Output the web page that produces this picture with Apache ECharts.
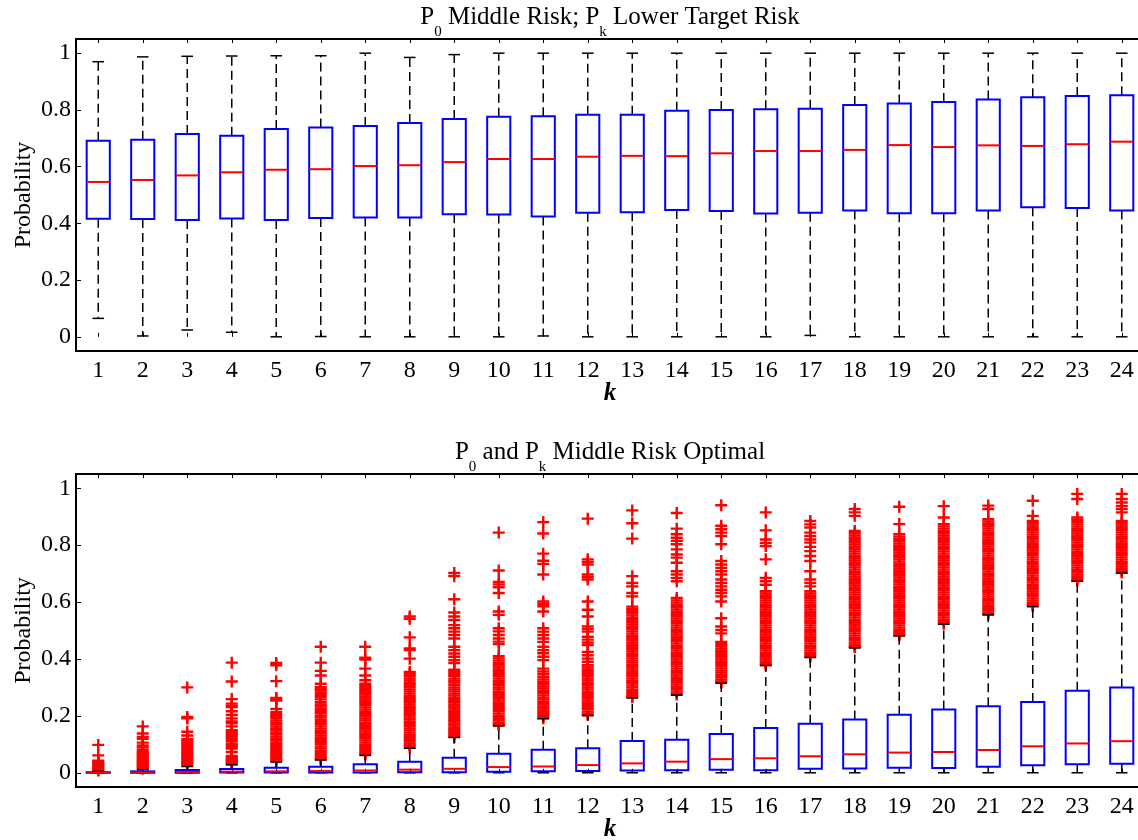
<!DOCTYPE html>
<html>
<head>
<meta charset="utf-8">
<title>Risk probability by k</title>
<script src="https://cdn.jsdelivr.net/npm/echarts@6/dist/echarts.min.js"></script>
<style>
  html, body { margin: 0; padding: 0; background: #fff; }
  #chart { width: 1138px; height: 840px; }
</style>
</head>
<body>
<div id="chart"></div>
<script>
// ---- categories and tick labels ----
const kLabels = ['1','2','3','4','5','6','7','8','9','10','11','12','13','14','15','16','17','18','19','20','21','22','23','24'];
const yTickValues = [0, 0.2, 0.4, 0.6, 0.8, 1];

// ---- upper panel: P0 middle risk, Pk lower target risk ----
const topLow  = [0.065, 0.003, 0.024, 0.016, 0.000, 0.001, 0.000, 0.000, 0.000, 0.000, 0.003, 0.000, 0.000, 0.000, 0.000, 0.000, 0.005, 0.000, 0.000, 0.000, 0.000, 0.000, 0.000, 0.000];
const topQ1   = [0.416, 0.415, 0.412, 0.417, 0.412, 0.419, 0.421, 0.421, 0.432, 0.431, 0.424, 0.437, 0.439, 0.447, 0.444, 0.435, 0.437, 0.445, 0.436, 0.436, 0.445, 0.457, 0.454, 0.445];
const topMed  = [0.546, 0.553, 0.569, 0.580, 0.589, 0.591, 0.602, 0.605, 0.616, 0.627, 0.627, 0.635, 0.638, 0.637, 0.647, 0.655, 0.655, 0.659, 0.676, 0.669, 0.675, 0.673, 0.679, 0.688];
const topQ3   = [0.691, 0.695, 0.715, 0.709, 0.733, 0.738, 0.743, 0.754, 0.768, 0.776, 0.778, 0.783, 0.783, 0.797, 0.800, 0.802, 0.804, 0.817, 0.823, 0.828, 0.837, 0.845, 0.849, 0.852];
const topHigh = [0.970, 0.987, 0.989, 0.990, 0.991, 0.991, 1.000, 0.985, 0.995, 1.000, 1.000, 1.000, 1.000, 1.000, 1.000, 1.000, 1.000, 1.000, 1.000, 1.000, 1.000, 1.000, 1.000, 1.000];

// ---- lower panel: P0 and Pk middle risk optimal ----
const botLow  = [0, 0, 0, 0, 0, 0, 0, 0, 0, 0, 0, 0, 0, 0, 0, 0, 0, 0, 0, 0, 0, 0, 0, 0];
const botQ1   = [0.000, 0.000, 0.000, 0.001, 0.001, 0.001, 0.001, 0.002, 0.002, 0.004, 0.005, 0.006, 0.008, 0.009, 0.011, 0.009, 0.014, 0.015, 0.018, 0.017, 0.021, 0.026, 0.030, 0.032];
const botMed  = [0.0005, 0.001, 0.003, 0.004, 0.005, 0.006, 0.008, 0.011, 0.014, 0.020, 0.022, 0.027, 0.033, 0.039, 0.048, 0.051, 0.058, 0.065, 0.071, 0.073, 0.080, 0.093, 0.103, 0.111];
const botQ3   = [0.002, 0.005, 0.010, 0.013, 0.018, 0.021, 0.030, 0.039, 0.053, 0.067, 0.081, 0.086, 0.112, 0.116, 0.136, 0.157, 0.172, 0.187, 0.204, 0.222, 0.234, 0.249, 0.288, 0.300];
const botHigh = [0.005, 0.011, 0.022, 0.028, 0.038, 0.045, 0.061, 0.086, 0.124, 0.165, 0.190, 0.201, 0.263, 0.273, 0.315, 0.377, 0.405, 0.439, 0.481, 0.522, 0.555, 0.584, 0.673, 0.702];

// outliers of the lower panel, one list per k
const botOutliers = [
  /* 1 */ [0.098, 0.061, 0.042, 0.038, 0.034, 0.031, 0.027, 0.023, 0.019, 0.015, 0.011, 0.008],
  /* 2 */ [0.163, 0.138, 0.126, 0.119, 0.106, 0.096, 0.089, 0.079, 0.074, 0.069, 0.064, 0.060, 0.055, 0.050, 0.046, 0.042, 0.037, 0.033, 0.029, 0.025, 0.021, 0.017, 0.014],
  /* 3 */ [0.300, 0.196, 0.191, 0.144, 0.131, 0.118, 0.113, 0.107, 0.101, 0.095, 0.090, 0.084, 0.078, 0.073, 0.067, 0.062, 0.057, 0.052, 0.047, 0.042, 0.038, 0.034, 0.030, 0.026],
  /* 4 */ [0.387, 0.321, 0.259, 0.243, 0.236, 0.231, 0.216, 0.203, 0.191, 0.180, 0.174, 0.163, 0.150, 0.144, 0.138, 0.132, 0.126, 0.119, 0.112, 0.103, 0.097, 0.090, 0.085, 0.073, 0.059, 0.055, 0.050, 0.046, 0.042, 0.038, 0.034, 0.031],
  /* 5 */ [0.386, 0.378, 0.322, 0.263, 0.258, 0.254, 0.224, 0.213, 0.206, 0.199, 0.192, 0.184, 0.177, 0.171, 0.163, 0.156, 0.150, 0.142, 0.136, 0.128, 0.121, 0.115, 0.107, 0.101, 0.094, 0.087, 0.080, 0.073, 0.067, 0.061, 0.055, 0.049, 0.044, 0.040],
  /* 6 */ [0.443, 0.387, 0.358, 0.342, 0.313, 0.301, 0.294, 0.289, 0.281, 0.273, 0.266, 0.258, 0.248, 0.240, 0.233, 0.224, 0.216, 0.209, 0.201, 0.194, 0.186, 0.178, 0.171, 0.163, 0.155, 0.147, 0.139, 0.131, 0.123, 0.116, 0.108, 0.100, 0.092, 0.085, 0.077, 0.070, 0.063, 0.056, 0.050, 0.047],
  /* 7 */ [0.443, 0.404, 0.398, 0.366, 0.342, 0.325, 0.313, 0.306, 0.298, 0.291, 0.284, 0.276, 0.268, 0.261, 0.253, 0.245, 0.238, 0.230, 0.222, 0.214, 0.207, 0.199, 0.191, 0.184, 0.176, 0.168, 0.160, 0.153, 0.145, 0.137, 0.129, 0.122, 0.114, 0.106, 0.098, 0.091, 0.083, 0.076, 0.069, 0.063],
  /* 8 */ [0.549, 0.541, 0.476, 0.437, 0.431, 0.401, 0.354, 0.347, 0.339, 0.331, 0.324, 0.316, 0.309, 0.301, 0.293, 0.286, 0.278, 0.270, 0.263, 0.255, 0.248, 0.240, 0.232, 0.225, 0.217, 0.209, 0.202, 0.194, 0.187, 0.179, 0.171, 0.164, 0.156, 0.149, 0.141, 0.133, 0.126, 0.118, 0.111, 0.103, 0.096, 0.089],
  /* 9 */ [0.702, 0.691, 0.610, 0.563, 0.549, 0.537, 0.519, 0.508, 0.496, 0.484, 0.472, 0.443, 0.431, 0.419, 0.408, 0.396, 0.386, 0.362, 0.355, 0.347, 0.340, 0.331, 0.324, 0.317, 0.309, 0.300, 0.293, 0.286, 0.278, 0.271, 0.263, 0.255, 0.248, 0.240, 0.233, 0.226, 0.218, 0.211, 0.203, 0.196, 0.188, 0.181, 0.173, 0.166, 0.158, 0.151, 0.144, 0.137, 0.131, 0.126],
  /* 10 */ [0.844, 0.711, 0.671, 0.662, 0.652, 0.632, 0.567, 0.555, 0.508, 0.497, 0.484, 0.472, 0.461, 0.452, 0.410, 0.402, 0.394, 0.386, 0.378, 0.370, 0.362, 0.355, 0.347, 0.339, 0.331, 0.323, 0.316, 0.308, 0.300, 0.293, 0.285, 0.277, 0.270, 0.262, 0.254, 0.246, 0.239, 0.231, 0.223, 0.216, 0.208, 0.200, 0.192, 0.185, 0.177, 0.171, 0.167],
  /* 11 */ [0.881, 0.841, 0.770, 0.745, 0.734, 0.697, 0.602, 0.594, 0.585, 0.567, 0.508, 0.496, 0.484, 0.472, 0.460, 0.443, 0.431, 0.420, 0.408, 0.396, 0.366, 0.356, 0.346, 0.337, 0.328, 0.319, 0.311, 0.303, 0.296, 0.288, 0.280, 0.272, 0.264, 0.257, 0.249, 0.241, 0.233, 0.226, 0.218, 0.210, 0.203, 0.197, 0.192],
  /* 12 */ [0.893, 0.750, 0.741, 0.732, 0.697, 0.688, 0.679, 0.602, 0.573, 0.549, 0.514, 0.505, 0.496, 0.478, 0.468, 0.458, 0.449, 0.425, 0.413, 0.401, 0.390, 0.378, 0.370, 0.362, 0.355, 0.347, 0.339, 0.331, 0.324, 0.316, 0.308, 0.300, 0.293, 0.285, 0.277, 0.269, 0.262, 0.254, 0.246, 0.238, 0.231, 0.223, 0.215, 0.208, 0.203],
  /* 13 */ [0.922, 0.877, 0.823, 0.691, 0.667, 0.655, 0.632, 0.620, 0.584, 0.576, 0.568, 0.561, 0.553, 0.545, 0.537, 0.529, 0.521, 0.513, 0.505, 0.497, 0.489, 0.481, 0.474, 0.466, 0.458, 0.450, 0.442, 0.434, 0.426, 0.418, 0.410, 0.402, 0.394, 0.387, 0.379, 0.371, 0.363, 0.355, 0.347, 0.339, 0.331, 0.323, 0.315, 0.307, 0.300, 0.292, 0.284, 0.276, 0.269, 0.265],
  /* 14 */ [0.913, 0.858, 0.838, 0.826, 0.815, 0.803, 0.785, 0.767, 0.756, 0.738, 0.708, 0.697, 0.685, 0.673, 0.614, 0.606, 0.598, 0.590, 0.582, 0.574, 0.566, 0.558, 0.550, 0.542, 0.534, 0.526, 0.518, 0.510, 0.502, 0.494, 0.486, 0.478, 0.470, 0.462, 0.454, 0.446, 0.438, 0.430, 0.422, 0.414, 0.406, 0.398, 0.390, 0.382, 0.374, 0.366, 0.358, 0.350, 0.342, 0.334, 0.326, 0.318, 0.310, 0.302, 0.294, 0.286, 0.279, 0.275],
  /* 15 */ [0.940, 0.868, 0.856, 0.844, 0.832, 0.803, 0.744, 0.732, 0.720, 0.708, 0.697, 0.679, 0.667, 0.655, 0.643, 0.632, 0.620, 0.602, 0.543, 0.514, 0.502, 0.490, 0.460, 0.452, 0.445, 0.437, 0.429, 0.421, 0.414, 0.406, 0.398, 0.390, 0.383, 0.375, 0.367, 0.359, 0.352, 0.344, 0.336, 0.328, 0.321, 0.317],
  /* 16 */ [0.915, 0.852, 0.820, 0.808, 0.797, 0.750, 0.685, 0.673, 0.661, 0.638, 0.630, 0.622, 0.614, 0.606, 0.598, 0.590, 0.582, 0.574, 0.566, 0.558, 0.550, 0.542, 0.534, 0.526, 0.518, 0.510, 0.502, 0.494, 0.486, 0.478, 0.470, 0.462, 0.454, 0.446, 0.438, 0.430, 0.422, 0.414, 0.406, 0.398, 0.390, 0.383, 0.379],
  /* 17 */ [0.885, 0.873, 0.862, 0.844, 0.832, 0.820, 0.809, 0.794, 0.779, 0.762, 0.744, 0.708, 0.679, 0.667, 0.655, 0.638, 0.630, 0.622, 0.614, 0.606, 0.598, 0.590, 0.582, 0.574, 0.566, 0.558, 0.550, 0.542, 0.534, 0.526, 0.518, 0.510, 0.502, 0.494, 0.486, 0.478, 0.470, 0.462, 0.454, 0.446, 0.438, 0.430, 0.422, 0.414, 0.408],
  /* 18 */ [0.927, 0.915, 0.903, 0.850, 0.842, 0.834, 0.826, 0.818, 0.810, 0.802, 0.794, 0.786, 0.778, 0.770, 0.762, 0.754, 0.746, 0.738, 0.730, 0.722, 0.714, 0.706, 0.698, 0.690, 0.682, 0.674, 0.666, 0.658, 0.650, 0.642, 0.634, 0.626, 0.618, 0.610, 0.602, 0.594, 0.586, 0.578, 0.570, 0.562, 0.554, 0.546, 0.538, 0.530, 0.522, 0.514, 0.506, 0.498, 0.490, 0.482, 0.474, 0.466, 0.458, 0.450, 0.444, 0.441],
  /* 19 */ [0.935, 0.874, 0.838, 0.830, 0.822, 0.814, 0.806, 0.798, 0.790, 0.782, 0.774, 0.766, 0.758, 0.750, 0.742, 0.734, 0.726, 0.718, 0.710, 0.702, 0.694, 0.686, 0.678, 0.670, 0.662, 0.654, 0.646, 0.638, 0.630, 0.622, 0.614, 0.606, 0.598, 0.590, 0.582, 0.574, 0.566, 0.558, 0.550, 0.542, 0.534, 0.526, 0.518, 0.510, 0.502, 0.494, 0.487, 0.483],
  /* 20 */ [0.937, 0.897, 0.874, 0.866, 0.858, 0.850, 0.842, 0.834, 0.826, 0.818, 0.810, 0.802, 0.794, 0.786, 0.778, 0.770, 0.762, 0.754, 0.746, 0.738, 0.730, 0.722, 0.714, 0.706, 0.698, 0.690, 0.682, 0.674, 0.666, 0.658, 0.650, 0.642, 0.634, 0.626, 0.618, 0.610, 0.602, 0.594, 0.586, 0.578, 0.570, 0.562, 0.554, 0.546, 0.538, 0.530, 0.524],
  /* 21 */ [0.939, 0.927, 0.891, 0.883, 0.875, 0.867, 0.859, 0.851, 0.843, 0.835, 0.827, 0.819, 0.811, 0.803, 0.795, 0.787, 0.779, 0.771, 0.763, 0.755, 0.747, 0.739, 0.731, 0.723, 0.715, 0.707, 0.699, 0.691, 0.683, 0.675, 0.667, 0.659, 0.651, 0.643, 0.635, 0.627, 0.619, 0.611, 0.603, 0.595, 0.587, 0.579, 0.571, 0.563, 0.557],
  /* 22 */ [0.956, 0.903, 0.885, 0.877, 0.869, 0.861, 0.853, 0.845, 0.837, 0.829, 0.821, 0.813, 0.805, 0.797, 0.789, 0.781, 0.773, 0.765, 0.757, 0.749, 0.741, 0.733, 0.725, 0.717, 0.709, 0.701, 0.693, 0.685, 0.677, 0.669, 0.661, 0.653, 0.645, 0.637, 0.629, 0.621, 0.613, 0.605, 0.597, 0.590, 0.586],
  /* 23 */ [0.980, 0.962, 0.897, 0.889, 0.881, 0.873, 0.865, 0.857, 0.849, 0.841, 0.833, 0.825, 0.817, 0.809, 0.801, 0.793, 0.785, 0.777, 0.769, 0.761, 0.753, 0.745, 0.737, 0.729, 0.721, 0.713, 0.705, 0.697, 0.689, 0.681, 0.675],
  /* 24 */ [0.980, 0.962, 0.950, 0.938, 0.927, 0.915, 0.885, 0.877, 0.869, 0.861, 0.853, 0.845, 0.837, 0.829, 0.821, 0.813, 0.805, 0.797, 0.789, 0.781, 0.773, 0.765, 0.757, 0.749, 0.741, 0.733, 0.725, 0.717, 0.709, 0.704]
];

// panel titles: [text, isSubscript]
const topTitle = [['P', false], ['0', true], [' Middle Risk; P', false], ['k', true], [' Lower Target Risk', false]];
const botTitle = [['P', false], ['0', true], [' and P', false], ['k', true], [' Middle Risk Optimal', false]];

// ---- build series data from the arrays above ----
function boxRows(lo, q1, md, q3, hi) {
  return kLabels.map((_, i) => [i, lo[i], q1[i], md[i], q3[i], hi[i]]);
}
const topBoxes = boxRows(topLow, topQ1, topMed, topQ3, topHigh);
const botBoxes = boxRows(botLow, botQ1, botMed, botQ3, botHigh);
const botOutlierPoints = [];
botOutliers.forEach((list, i) => list.forEach(v => botOutlierPoints.push([i, v])));

const FONT = '"Liberation Serif", "Times New Roman", serif';
const PLUS = 'path://M0,4H10V6H0Z M4,0H6V10H4Z';

// box: blue outline, red median, black dashed whiskers with caps
function renderBox(params, api) {
  const i = api.value(0);
  const lo = api.coord([i, api.value(1)]);
  const q1 = api.coord([i, api.value(2)]);
  const md = api.coord([i, api.value(3)]);
  const q3 = api.coord([i, api.value(4)]);
  const hi = api.coord([i, api.value(5)]);
  const band = api.size([1, 0])[0];
  const cx = lo[0];
  const half = band * 0.26;
  const cap = band * 0.13;
  const dashed = { stroke: '#000', lineWidth: 1.5, lineDash: [9, 5] };
  const solid = { stroke: '#000', lineWidth: 1.5 };
  return {
    type: 'group',
    children: [
      { type: 'line', shape: { x1: cx, y1: q3[1], x2: cx, y2: hi[1] }, style: dashed },
      { type: 'line', shape: { x1: cx, y1: q1[1], x2: cx, y2: lo[1] }, style: dashed },
      { type: 'line', shape: { x1: cx - cap, y1: hi[1], x2: cx + cap, y2: hi[1] }, style: solid },
      { type: 'line', shape: { x1: cx - cap, y1: lo[1], x2: cx + cap, y2: lo[1] }, style: solid },
      { type: 'rect', shape: { x: cx - half, y: q3[1], width: 2 * half, height: q1[1] - q3[1] },
        style: { fill: 'none', stroke: '#0000ff', lineWidth: 2 } },
      { type: 'line', shape: { x1: cx - half, y1: md[1], x2: cx + half, y2: md[1] },
        style: { stroke: '#ff0000', lineWidth: 2 } }
    ]
  };
}

// title with subscripts: fragments placed side by side on a shared baseline
function titleElements(parts, centerX, baseline) {
  const ctx = document.createElement('canvas').getContext('2d');
  const sizes = parts.map(p => (p[1] ? 15 : 25));
  const widths = parts.map((p, i) => {
    ctx.font = sizes[i] + 'px "Liberation Serif"';
    return ctx.measureText(p[0]).width;
  });
  const total = widths.reduce((a, b) => a + b, 0);
  let x = centerX - total / 2;
  return parts.map((p, i) => {
    const size = sizes[i];
    const base = p[1] ? baseline + 11 : baseline;
    const el = {
      type: 'text', x: x, y: base - 0.3375 * size, silent: true,
      style: { text: p[0], fontFamily: FONT, fontSize: size, fill: '#000', align: 'left', verticalAlign: 'middle' }
    };
    x += widths[i];
    return el;
  });
}

function categoryAxis(gridIndex, withLabels) {
  return {
    type: 'category',
    gridIndex: gridIndex,
    position: withLabels ? 'bottom' : 'top',
    data: kLabels,
    boundaryGap: true,
    axisLine: { show: false },
    axisTick: { show: true, inside: true, length: 4, alignWithLabel: true, lineStyle: { color: '#000', width: 1 } },
    axisLabel: { show: withLabels, color: '#000', fontFamily: FONT, fontSize: 24, margin: 8 },
    splitLine: { show: false },
    name: withLabels ? 'k' : '',
    nameLocation: 'middle',
    nameGap: 30,
    nameMoveOverlap: false,
    nameTextStyle: { color: '#000', fontFamily: FONT, fontSize: 25, fontStyle: 'italic', fontWeight: 'bold' }
  };
}

function probAxis(gridIndex) {
  return {
    type: 'value',
    gridIndex: gridIndex,
    min: -0.05,
    max: 1.05,
    axisLine: { show: false },
    axisTick: { show: true, inside: true, length: 5, customValues: yTickValues, lineStyle: { color: '#000', width: 1 } },
    axisLabel: { color: '#000', fontFamily: FONT, fontSize: 24, margin: 5, customValues: yTickValues },
    splitLine: { show: false },
    name: 'Probability',
    nameLocation: 'middle',
    nameGap: 40,
    nameMoveOverlap: false,
    nameTextStyle: { color: '#000', fontFamily: FONT, fontSize: 24 }
  };
}

const chart = echarts.init(document.getElementById('chart'), null, { renderer: 'canvas' });
chart.setOption({
  animation: false,
  backgroundColor: '#fff',
  grid: [
    { left: 76, top: 39, width: 1068, height: 312, outerBoundsMode: 'none', containLabel: false,
      show: true, borderColor: '#000', borderWidth: 2, backgroundColor: '#fff' },
    { left: 76, top: 474, width: 1068, height: 313, outerBoundsMode: 'none', containLabel: false,
      show: true, borderColor: '#000', borderWidth: 2, backgroundColor: '#fff' }
  ],
  xAxis: [categoryAxis(0, true), categoryAxis(0, false), categoryAxis(1, true), categoryAxis(1, false)],
  yAxis: [probAxis(0), probAxis(1)],
  graphic: titleElements(topTitle, 610, 26).concat(titleElements(botTitle, 610, 461)),
  series: [
    { type: 'custom', name: 'upper', xAxisIndex: 0, yAxisIndex: 0, renderItem: renderBox,
      encode: { x: 0, y: [1, 2, 3, 4, 5] }, data: topBoxes, z: 3, silent: true },
    { type: 'scatter', name: 'outliers', xAxisIndex: 2, yAxisIndex: 1, data: botOutlierPoints,
      symbol: PLUS, symbolSize: 12, itemStyle: { color: '#ff0000', opacity: 1 }, z: 2, silent: true },
    { type: 'custom', name: 'lower', xAxisIndex: 2, yAxisIndex: 1, renderItem: renderBox,
      encode: { x: 0, y: [1, 2, 3, 4, 5] }, data: botBoxes, z: 3, silent: true }
  ]
});
</script>
</body>
</html>
